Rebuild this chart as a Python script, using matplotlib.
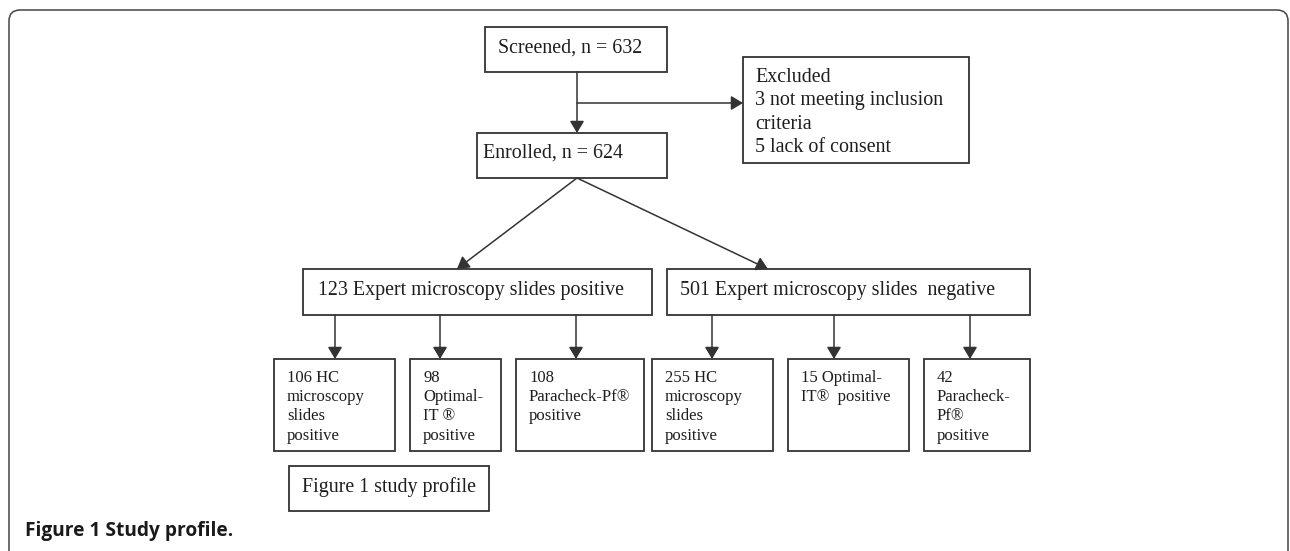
import matplotlib
matplotlib.use("Agg")
import matplotlib.pyplot as plt
from matplotlib.path import Path
from matplotlib.patches import PathPatch, Rectangle

# ---- content ----
top_label = "Screened, n = 632"
enrolled_label = "Enrolled, n = 624"
excluded_lines = ["Excluded", "3 not meeting inclusion", "criteria", "5 lack of consent"]
positive_label = "123 Expert microscopy slides positive"
negative_label = "501 Expert microscopy slides  negative"
positive_children = [
    ["106 HC", "microscopy", "slides", "positive"],
    ["98", "Optimal-", "IT \u00ae", "positive"],
    ["108", "Paracheck-Pf\u00ae", "positive"],
]
negative_children = [
    ["255 HC", "microscopy", "slides", "positive"],
    ["15 Optimal-", "IT\u00ae  positive"],
    ["42", "Paracheck-", "Pf\u00ae", "positive"],
]
inner_caption = "Figure 1 study profile"
caption = "Figure 1 Study profile."

# ---- layout (pixels) ----
W, H = 1290, 551
LC = "#333333"
TC = "#1e1e1e"
SERIF = "Liberation Serif"
BIG = 14.4
SMALL = 12.0

fig = plt.figure(figsize=(W / 100, H / 100), dpi=100)
ax = fig.add_axes([0, 0, 1, 1])
ax.set_xlim(0, W)
ax.set_ylim(H, 0)
ax.axis("off")


def box(x0, y0, x1, y1):
    ax.add_patch(Rectangle((x0, y0), x1 - x0, y1 - y0, fill=False,
                           edgecolor=LC, lw=1.3, zorder=2))


def arrow(x0, y0, x1, y1):
    ax.annotate("", xy=(x1, y1), xytext=(x0, y0),
                arrowprops=dict(arrowstyle="-|>,head_length=0.45,head_width=0.27",
                                color=LC, lw=1.1, shrinkA=0, shrinkB=0,
                                mutation_scale=16), zorder=3)


def lines(x, y0, texts, dy, size):
    for i, t in enumerate(texts):
        ax.text(x, y0 + i * dy, t, fontsize=size, family=SERIF, color=TC,
                ha="left", va="baseline")


# outer frame
r = 11
fx0, fx1, fy0 = 9, 1288, 10
verts = [(fx0, H + 2), (fx0, fy0 + r), (fx0, fy0), (fx0 + r, fy0),
         (fx1 - r, fy0), (fx1, fy0), (fx1, fy0 + r), (fx1, H + 2)]
codes = [Path.MOVETO, Path.LINETO, Path.CURVE3, Path.CURVE3,
         Path.LINETO, Path.CURVE3, Path.CURVE3, Path.LINETO]
ax.add_patch(PathPatch(Path(verts, codes), fill=False, edgecolor="#444444", lw=1.1))

# top boxes
box(485, 27, 667, 72)
lines(498, 53, [top_label], 0, BIG)
box(477, 133, 667, 178)
lines(483, 158, [enrolled_label], 0, BIG)
box(743, 57, 969, 163)
lines(755, 82, excluded_lines, 23.3, BIG)

arrow(577, 72, 577, 133)
arrow(577, 103, 743, 103)

# second level
arrow(577, 178, 457, 269)
arrow(577, 178, 768, 269)
box(303, 269, 652, 315)
lines(318, 295, [positive_label], 0, BIG)
box(667, 269, 1030, 315)
lines(680, 295, [negative_label], 0, BIG)

# third level
child_boxes = [(274, 395), (410, 501), (516, 644), (652, 773), (788, 909), (924, 1030)]
arrow_x = [335, 440, 576, 712, 834, 970]
children = positive_children + negative_children
for (bx0, bx1), ax_x, texts in zip(child_boxes, arrow_x, children):
    arrow(ax_x, 315, ax_x, 359)
    box(bx0, 359, bx1, 451)
    lines(bx0 + 13, 382, texts, 19.2, SMALL)

box(289, 466, 489, 511)
lines(302, 492, [inner_caption], 0, BIG)

ax.text(25, 536, caption, fontsize=13.8, family="Open Sans", fontweight="bold",
        color="#1a1a1a", ha="left", va="baseline")

fig.savefig("out.png", dpi=100)
